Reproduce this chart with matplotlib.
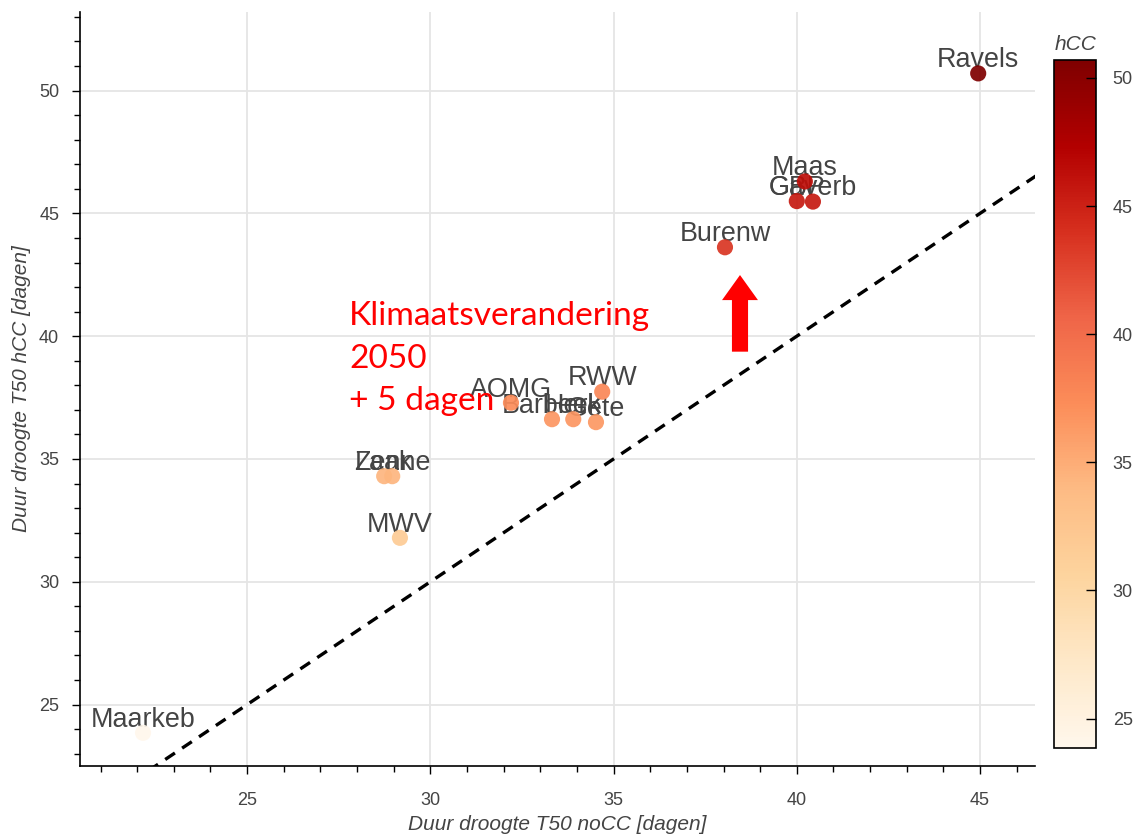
import numpy as np
import matplotlib
matplotlib.use("Agg")
import matplotlib.pyplot as plt
from matplotlib.ticker import MultipleLocator
from matplotlib.colors import Normalize

# Catchment drought durations (T50, days): without and with climate change
names = ["Ravels", "Maas", "GBP", "Gaverb", "Burenw", "RWW", "AOMG",
         "Barbeek", "Herk", "Gete", "Laak", "Zenne", "MWV", "Maarkeb"]
no_cc = [44.95, 40.22, 40.00, 40.44, 38.04, 34.69, 32.20,
         33.32, 33.90, 34.52, 28.74, 28.96, 29.17, 22.16]
h_cc = [50.70, 46.30, 45.50, 45.48, 43.62, 37.74, 37.29,
        36.62, 36.62, 36.50, 34.30, 34.30, 31.79, 23.85]

annotation_lines = ["Klimaatsverandering", "2050", "+ 5 dagen"]

W, H = 1140, 839
fig = plt.figure(figsize=(W / 100, H / 100), dpi=100)
ax = fig.add_axes([80 / W, 1 - 766 / H, (1035 - 80) / W, (766 - 12) / H])
cax = fig.add_axes([1054 / W, 1 - 748 / H, 42 / W, 688 / H])

txt_grey = "#444444"
label_font = "Liberation Sans"

cmap = plt.get_cmap("OrRd")
norm = Normalize(vmin=min(h_cc), vmax=max(h_cc))

ax.set_xlim(20.44, 46.5)
ax.set_ylim(22.5, 53.2)

# grid
ax.grid(True, which="major", color="#e5e5e5", lw=1.3, zorder=0)
ax.set_axisbelow(True)

# 1:1 reference line
lims = np.array([20.0, 47.0])
ax.plot(lims, lims, color="black", lw=2.4, dashes=(3.5, 2.6), zorder=2)

# point labels (drawn under the markers)
for n, x, y in zip(names, no_cc, h_cc):
    ax.annotate(n, (x, y), xytext=(0, 4.5), textcoords="offset points",
                ha="center", va="baseline", fontsize=19.4,
                family=label_font, color=txt_grey, zorder=3)

ax.scatter(no_cc, h_cc, c=h_cc, cmap=cmap, norm=norm, s=135,
           edgecolors="none", alpha=0.92, zorder=4)

# climate change annotation
ybase = [40.47, 38.72, 37.0]
for line, yb in zip(annotation_lines, ybase):
    ax.text(27.78, yb, line, color="#ff0000", fontsize=24.1, family="Lato",
            ha="left", va="baseline", zorder=5)
ax.arrow(38.45, 39.37, 0, 2.1, width=0.44, head_width=0.98,
         head_length=1.02, length_includes_head=False,
         color="#ff0000", lw=0, zorder=5)

# axes styling
for s in ["top", "right"]:
    ax.spines[s].set_visible(False)
for s in ["left", "bottom"]:
    ax.spines[s].set_color("black")
    ax.spines[s].set_linewidth(1.2)
ax.xaxis.set_major_locator(MultipleLocator(5))
ax.xaxis.set_minor_locator(MultipleLocator(1))
ax.yaxis.set_major_locator(MultipleLocator(5))
ax.yaxis.set_minor_locator(MultipleLocator(1))
ax.tick_params(which="major", direction="out", length=6, width=1,
               color="black", labelsize=13, labelcolor=txt_grey)
ax.tick_params(axis="x", which="major", pad=13)
ax.tick_params(axis="y", which="major", pad=9)
ax.tick_params(which="minor", direction="out", length=4, width=1, color="black")
for t in ax.get_xticklabels() + ax.get_yticklabels():
    t.set_family(label_font)

ax.set_xlabel("Duur droogte T50 noCC [dagen]", fontsize=15, style="italic",
              color=txt_grey, family=label_font, labelpad=4)
ax.set_ylabel("Duur droogte T50 hCC [dagen]", fontsize=15, style="italic",
              color=txt_grey, family=label_font, labelpad=6)

# colour bar
sm = matplotlib.cm.ScalarMappable(norm=norm, cmap=cmap)
cb = fig.colorbar(sm, cax=cax)
cb.outline.set_edgecolor("black")
cb.outline.set_linewidth(1.2)
cb.set_ticks([25, 30, 35, 40, 45, 50])
cax.tick_params(direction="in", length=7, width=1, color="black",
                labelsize=13, labelcolor=txt_grey, pad=12)
for t in cax.get_yticklabels():
    t.set_family(label_font)
fig.text(1055 / W, 1 - 45 / H, "hCC", fontsize=15, style="italic",
         color=txt_grey, family=label_font, ha="left", va="center")

fig.savefig("out.png", dpi=100)
